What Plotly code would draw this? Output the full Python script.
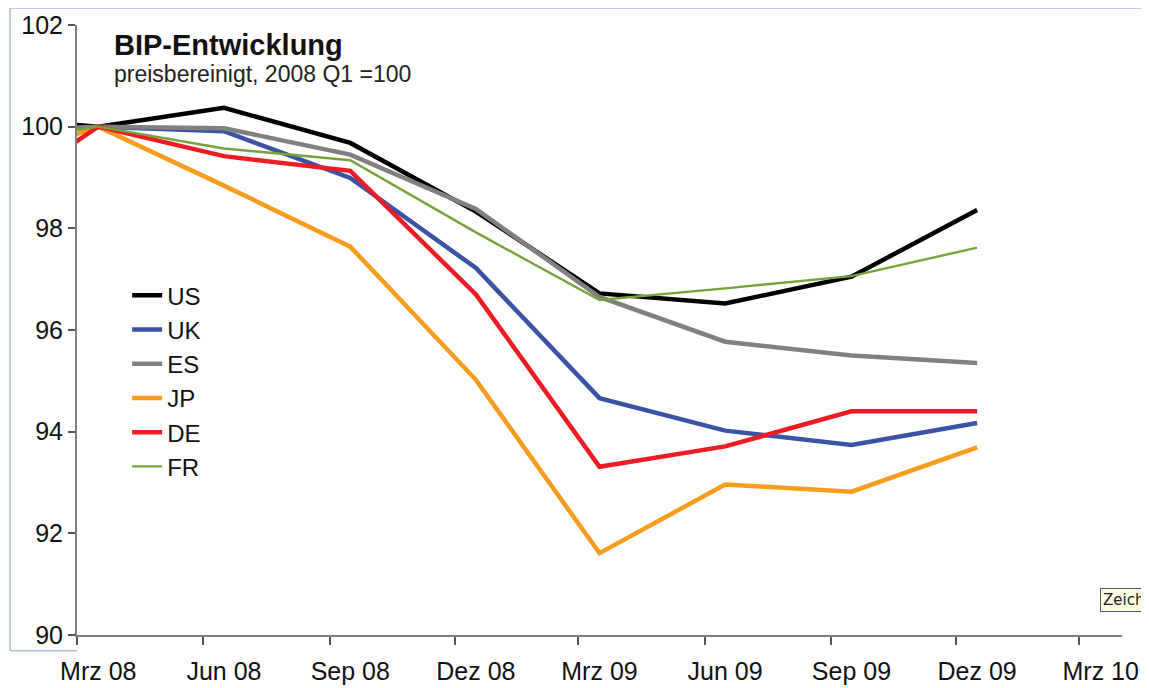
import pandas as pd
import plotly.graph_objects as go

# ---- data ----
quarter_months = ["2007-12", "2008-03", "2008-06", "2008-09", "2008-12",
                  "2009-03", "2009-06", "2009-09", "2009-12"]
us = [100.20, 100.00, 100.37, 99.68, 98.33, 96.72, 96.52, 97.05, 98.36]
uk = [99.80, 100.00, 99.91, 98.99, 97.22, 94.66, 94.02, 93.74, 94.17]
es = [99.90, 100.00, 99.97, 99.45, 98.38, 96.65, 95.77, 95.50, 95.35]
jp = [99.17, 100.00, 98.84, 97.64, 95.02, 91.61, 92.96, 92.82, 93.69]
de = [98.35, 100.00, 99.42, 99.13, 96.70, 93.31, 93.71, 94.40, 94.40]
fr = [99.62, 100.00, 99.57, 99.34, 97.92, 96.59, 96.82, 97.06, 97.62]

tick_months = ["2008-03", "2008-06", "2008-09", "2008-12", "2009-03",
               "2009-06", "2009-09", "2009-12", "2010-03"]
tick_labels = ["Mrz 08", "Jun 08", "Sep 08", "Dez 08", "Mrz 09",
               "Jun 09", "Sep 09", "Dez 09", "Mrz 10"]

series = [
    ("US", us, "#000000", 4.5),
    ("UK", uk, "#3A53A4", 4.5),
    ("ES", es, "#808080", 4.5),
    ("JP", jp, "#F89C1C", 4.5),
    ("DE", de, "#ED1C24", 4.5),
    ("FR", fr, "#77A33A", 2.4),
]


def mid_month(m):
    p = pd.Period(m, "M")
    return p.start_time + (p.end_time - p.start_time) / 2


x_pts = [mid_month(m) for m in quarter_months]
x_ticks = [mid_month(m) for m in tick_months]

FONT = "Liberation Sans, Arial, sans-serif"

fig = go.Figure()
for name, vals, color, w in series:
    fig.add_trace(go.Scatter(
        x=x_pts, y=vals, name=name, mode="lines",
        line=dict(color=color, width=w),
    ))

# page body adds an 8px offset at top/left, so the figure is 8px smaller
fig.update_layout(
    width=1141, height=680,
    margin=dict(l=69, r=27, t=17, b=53, autoexpand=False),
    paper_bgcolor="white", plot_bgcolor="white",
    font=dict(family=FONT, size=24, color="#111111"),
    showlegend=True,
    legend=dict(
        x=0.048, y=0.593, xanchor="left", yanchor="top",
        bgcolor="rgba(0,0,0,0)", font=dict(size=24, color="#111111"),
        itemwidth=30,
    ),
    xaxis=dict(
        type="date", automargin=False,
        range=["2008-03-01", "2010-04-01"],
        tickvals=x_ticks, ticktext=tick_labels,
        ticks="outside", ticklen=13, tickcolor="rgba(0,0,0,0)",
        showline=True, linecolor="#7F7F7F", linewidth=2,
        showgrid=False, zeroline=False,
        tickfont=dict(size=25, color="#111111"),
        minor=dict(ticks="outside", tick0="2008-03-01", dtick="M3",
                   ticklen=8, tickwidth=1.5, tickcolor="#555555",
                   showgrid=False),
    ),
    yaxis=dict(
        automargin=False,
        range=[90, 102], dtick=2, tick0=90,
        ticks="outside", ticklen=7, tickwidth=1.5, tickcolor="#555555",
        showline=True, linecolor="#7F7F7F", linewidth=2,
        showgrid=False, zeroline=False,
        tickfont=dict(size=25, color="#111111"),
    ),
)

fig.add_annotation(
    text="<b>BIP-Entwicklung</b>", xref="paper", yref="paper",
    x=0.0335, y=0.967, xanchor="left", yanchor="middle", showarrow=False,
    font=dict(size=29, color="#111111", family=FONT),
)
fig.add_annotation(
    text="preisbereinigt, 2008 Q1 =100", xref="paper", yref="paper",
    x=0.0335, y=0.920, xanchor="left", yanchor="middle", showarrow=False,
    font=dict(size=23, color="#222222", family=FONT),
)
fig.add_annotation(
    text="Zeich", xref="paper", yref="paper",
    x=1.024, y=0.057, xanchor="right", yanchor="middle", showarrow=False,
    font=dict(size=15, color="#222222", family="DejaVu Sans, sans-serif"),
    bgcolor="#FFFFE1", bordercolor="#555555", borderwidth=1, borderpad=2,
)

# light chart-area frame lines (selection border in the original)
frame = "#A9BCD6"
fig.add_shape(type="line", xref="paper", yref="paper",
              x0=-0.064, x1=1.03, y0=1.028, y1=1.028,
              line=dict(color=frame, width=1.5))
fig.add_shape(type="line", xref="paper", yref="paper",
              x0=-0.064, x1=-0.064, y0=1.028, y1=-0.026,
              line=dict(color=frame, width=1.5))
fig.add_shape(type="line", xref="paper", yref="paper",
              x0=-0.064, x1=0.0, y0=-0.026, y1=-0.026,
              line=dict(color=frame, width=1.5))

fig.write_html("out.html")
